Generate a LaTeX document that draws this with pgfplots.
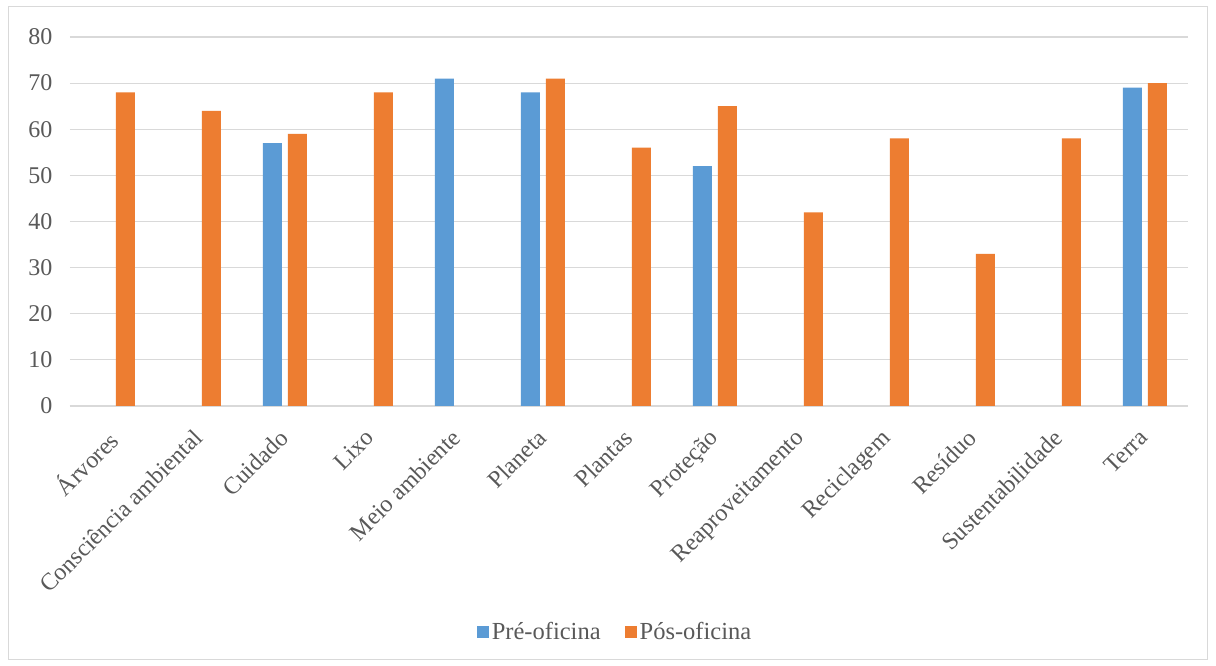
\documentclass[border=0pt]{standalone}
\usepackage{pgfplots}
\pgfplotsset{compat=1.18}
\usepackage{fontspec}
\setmainfont{Liberation Serif}
\definecolor{preblue}{HTML}{5B9BD5}
\definecolor{posorange}{HTML}{ED7D31}
\definecolor{txtgray}{HTML}{595959}
\definecolor{gridgray}{HTML}{D9D9D9}
\begin{document}
\begin{tikzpicture}
\path[use as bounding box] (0pt,0pt) rectangle (1216pt,666pt);
\fill[white] (0pt,0pt) rectangle (1216pt,666pt);
\draw[gridgray, line width=1pt] (8pt,6pt) rectangle (1207pt,659pt);
\begin{axis}[
  at={(70pt,260pt)}, anchor=south west,
  scale only axis, width=1118pt, height=369pt,
  xmin=-0.5, xmax=12.5, ymin=0, ymax=80,
  ytick={0,10,...,80},
  xtick={0,...,12},
  xticklabels={Árvores,Consciência ambiental,Cuidado,Lixo,Meio ambiente,Planeta,Plantas,Proteção,Reaproveitamento,Reciclagem,Resíduo,Sustentabilidade,Terra},
  axis lines=left,
  y axis line style={draw=none},
  x axis line style={gridgray, line width=1.2pt, -},
  major tick length=0pt,
  ymajorgrids, grid style={gridgray, line width=1.2pt},
  /pgf/number format/assume math mode=true,
  yticklabel style={font=\fontsize{24}{24}\selectfont, text=txtgray, anchor=east, xshift=-14pt},
  xticklabel style={font=\fontsize{24}{24}\selectfont, text=txtgray, rotate=45, anchor=north east, yshift=-7pt, xshift=-17pt},
  ybar=6pt, bar width=19pt,
  legend style={at={(0.4875,-0.6125)}, anchor=center, draw=none, legend columns=-1,
    font=\fontsize{24.5}{24.5}\selectfont, text=txtgray,
    /tikz/every even column/.append style={column sep=22pt},
    /tikz/every odd column/.append style={column sep=1pt}},
  legend image code/.code={\fill[#1] (0pt,-6pt) rectangle (12pt,6pt);},
  clip=false,
]
\addplot[fill=preblue, draw=none] coordinates {(2,57) (4,71) (5,68) (7,52) (12,69)};
\addplot[fill=posorange, draw=none] coordinates {(0,68) (1,64) (2,59) (3,68) (5,71) (6,56) (7,65) (8,42) (9,58) (10,33) (11,58) (12,70)};
\legend{Pré-oficina,Pós-oficina}
\end{axis}
\end{tikzpicture}
\end{document}
